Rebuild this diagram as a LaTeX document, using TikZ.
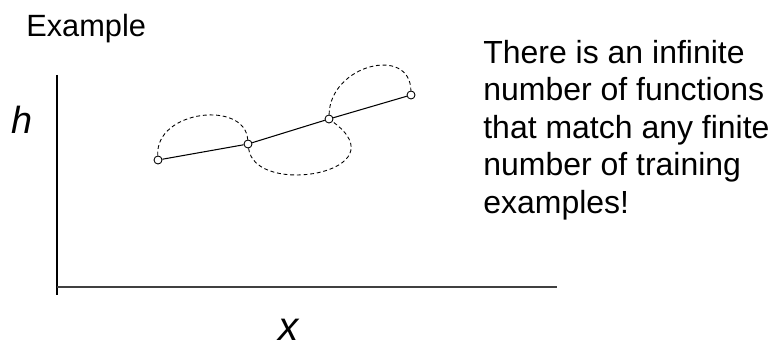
\documentclass[tikz,border=0pt]{standalone}
\usepackage{fontspec}
\setmainfont{Liberation Sans}
\usetikzlibrary{positioning}

\begin{document}
\begin{tikzpicture}[
  x=0.02cm, y=-0.02cm,
  sample/.style={draw, circle, fill=white, inner sep=0pt,
                 minimum size=0.16cm, line width=0.5pt},
  fit/.style={line width=0.6pt},
  alt/.style={dashed, dash pattern=on 2.2pt off 1.6pt, line width=0.5pt},
  axis/.style={line width=0.6pt},
  title/.style={font=\fontsize{17.5}{20}\selectfont, inner sep=0pt},
  note/.style={font=\fontsize{18.2}{21.3}\selectfont, align=left, inner sep=0pt},
  var/.style={font=\fontsize{21.5}{24}\selectfont\itshape, inner sep=0pt},
]

  \useasboundingbox (0,0) rectangle (777,348);

  % Axes

  \coordinate (top)    at (57,75);
  \coordinate (origin) at (57,295);
  \coordinate (corner) at (57,287);
  \coordinate (right)  at (557,287);

  \draw[axis] (top) -- (origin);
  \draw[axis, line width=1pt, black!75] (corner) -- (right);

  \node[var, anchor=base] (hlbl) at (22,133) {h};
  \node[var, font=\fontsize{23}{26}\selectfont\itshape, anchor=base]
    (xlbl) at (289,340) {x};

  % Training examples

  \node[sample] (p1) at (158,160) {};
  \node[sample] (p2) at (248,144) {};
  \node[sample] (p3) at (329,119) {};
  \node[sample] (p4) at (411,95)  {};

  % Piecewise linear fit

  \draw[fit] (p1) -- (p2);
  \draw[fit] (p2) -- (p3);
  \draw[fit] (p3) -- (p4);

  % Other functions through the same points

  \draw[alt] (p1) .. controls (155,110) and (245,100) .. (p2);
  \draw[alt] (p2) .. controls (255,198) and (402,172) .. (p3);
  \draw[alt] (p3) .. controls (330,65) and (410,45) .. (p4);

  % Texts

  \node[title, anchor=base west] (ttl) at (26,37) {Example};

  \node[note, anchor=north west] (msg) at (483,40)
    {There is an infinite\\
     number of functions\\
     that match any finite\\
     number of training\\
     examples!};

\end{tikzpicture}
\end{document}
